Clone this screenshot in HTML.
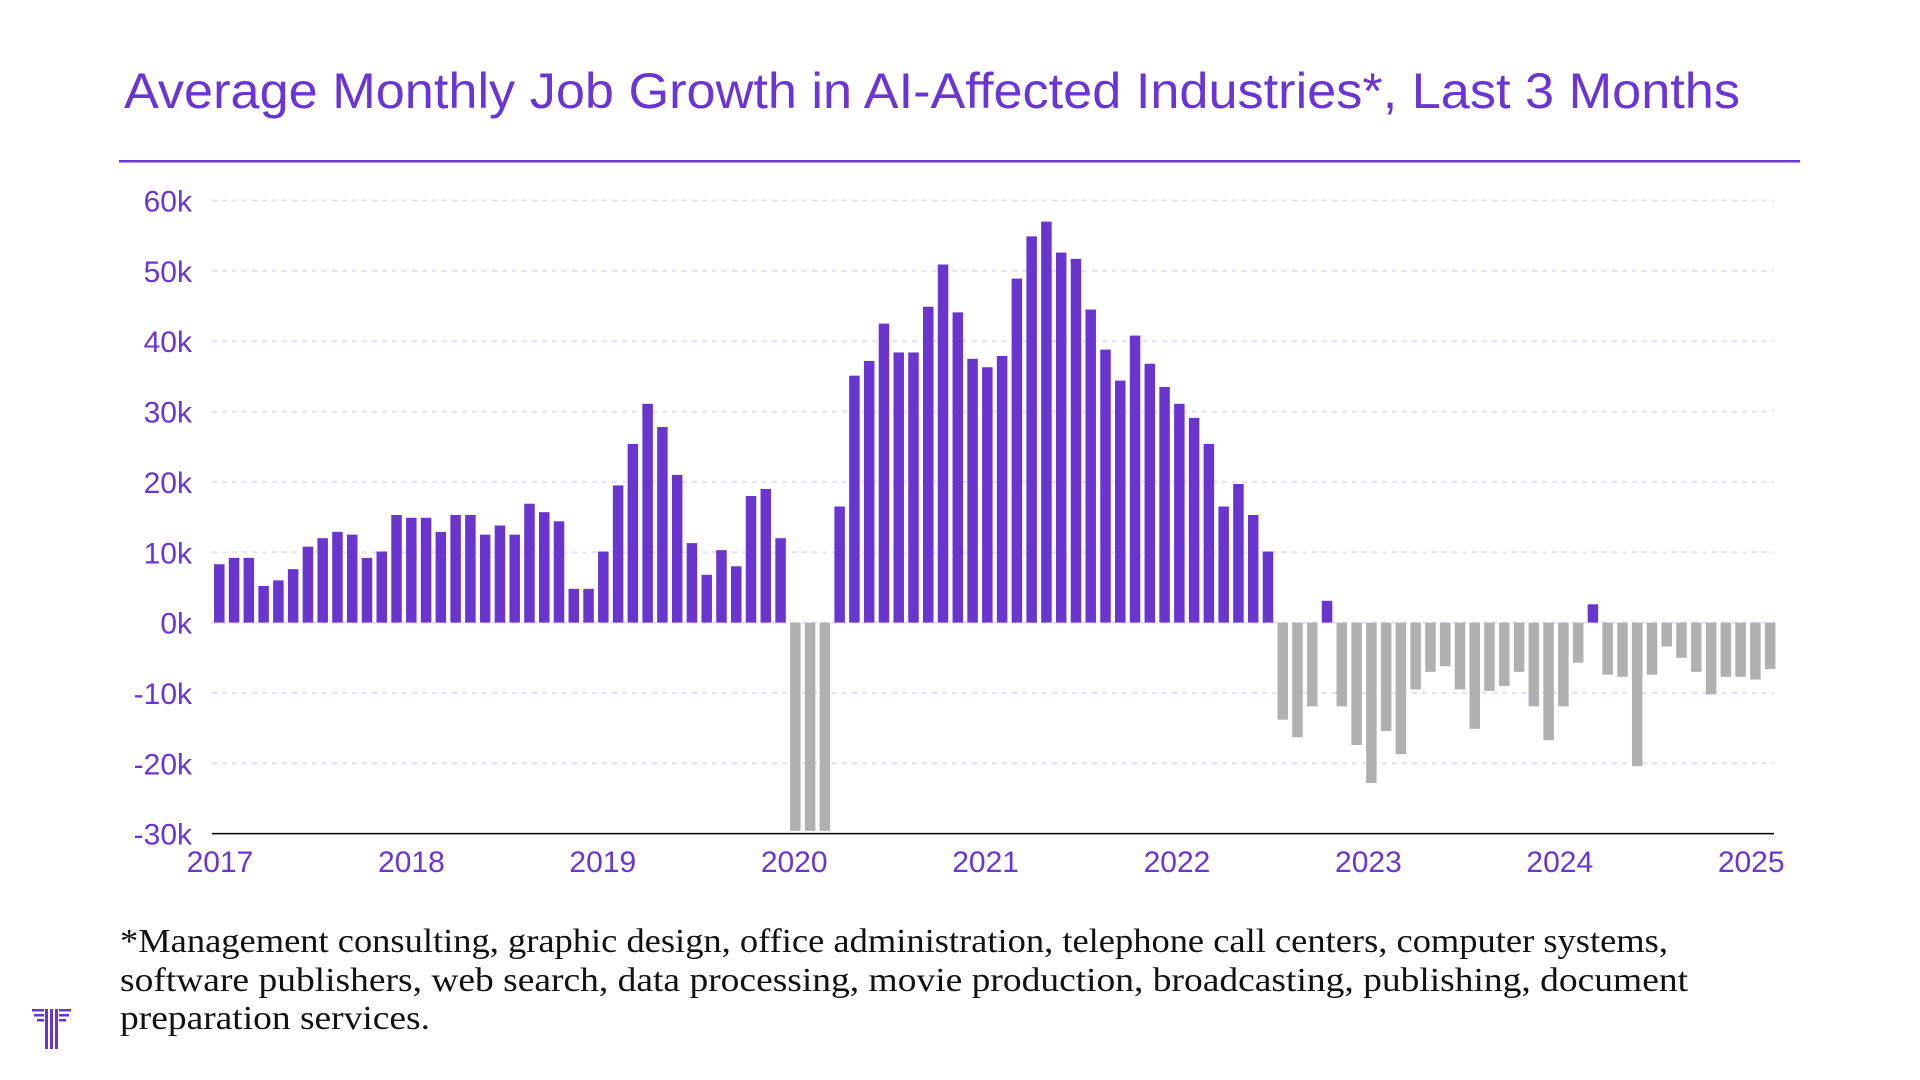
<!DOCTYPE html>
<html><head><meta charset="utf-8"><style>
html,body{margin:0;padding:0;background:#fff;}
svg{display:block;}
</style></head><body>
<svg id="chart" width="1920" height="1080" viewBox="0 0 1920 1080" xmlns="http://www.w3.org/2000/svg">
<rect width="1920" height="1080" fill="#fff"/>
<text x="124" y="108" font-family="Liberation Sans, sans-serif" font-size="50" fill="#6a35d4" textLength="1616" lengthAdjust="spacingAndGlyphs">Average Monthly Job Growth in AI-Affected Industries*, Last 3 Months</text>
<rect x="119" y="160" width="1681" height="2.5" fill="#6a35d4"/>
<g id="grid"></g>
<g id="yaxis"></g>
<g id="bars"></g>
<g id="xaxis"></g>
<g font-family="Liberation Serif, serif" font-size="34" fill="#111">
<text x="120" y="952" textLength="1548" lengthAdjust="spacingAndGlyphs">*Management consulting, graphic design, office administration, telephone call centers, computer systems,</text>
<text x="120" y="991" textLength="1568" lengthAdjust="spacingAndGlyphs">software publishers, web search, data processing, movie production, broadcasting, publishing, document</text>
<text x="120" y="1029" textLength="310" lengthAdjust="spacingAndGlyphs">preparation services.</text>
</g>
<g fill="#6a35d4">
<rect x="45" y="1009" width="3" height="40"/><rect x="50" y="1009" width="3" height="40"/><rect x="55" y="1009" width="3" height="40"/>
<rect x="32" y="1009" width="12" height="2.5"/><rect x="34" y="1014" width="10" height="2.5"/><rect x="37" y="1019" width="7" height="2.5"/>
<rect x="59" y="1009" width="12" height="2.5"/><rect x="59" y="1014" width="10" height="2.5"/><rect x="59" y="1019" width="7" height="2.5"/>
</g>
</svg>
<script>
const values = [8.3,9.2,9.2,5.2,6.0,7.6,10.8,12.0,12.9,12.5,9.2,10.1,15.3,14.9,14.9,12.9,15.3,15.3,12.5,13.8,12.5,16.9,15.7,14.4,4.8,4.8,10.1,19.5,25.4,31.1,27.8,21.0,11.3,6.8,10.3,8.0,18.0,19.0,12.0,-29.6,-29.6,-29.6,16.5,35.1,37.2,42.5,38.4,38.4,44.9,50.9,44.1,37.5,36.3,37.9,48.9,54.9,57.0,52.6,51.7,44.5,38.8,34.4,40.8,36.8,33.5,31.1,29.1,25.4,16.5,19.7,15.3,10.1,-13.8,-16.3,-11.9,3.1,-11.9,-17.4,-22.8,-15.4,-18.7,-9.5,-7.0,-6.2,-9.5,-15.1,-9.7,-9.0,-7.0,-11.9,-16.7,-11.9,-5.7,2.6,-7.4,-7.7,-20.4,-7.4,-3.4,-5.0,-7.0,-10.2,-7.7,-7.7,-8.1,-6.6];
const yTicks = [60,50,40,30,20,10,0,-10,-20,-30];
const yTickLabels = ["60k","50k","40k","30k","20k","10k","0k","-10k","-20k","-30k"];
const xLabels = ["2017","2018","2019","2020","2021","2022","2023","2024","2025"];

const NS = "http://www.w3.org/2000/svg";
const plotLeft = 212, plotRight = 1774;
function yScale(v){ return 622.6 - v * 7.035; }
function xBar(i){ return 219.3 + i * 14.77; }
function xLabel(k){ return 220 + k * 191.4; }
function mk(tag, attrs, parent){ const e = document.createElementNS(NS, tag); for (const k in attrs) e.setAttribute(k, attrs[k]); parent.appendChild(e); return e; }

const grid = document.getElementById('grid');
const yaxis = document.getElementById('yaxis');
yTicks.forEach((t, i) => {
  const y = yScale(t);
  if (t !== -30) {
    const l = mk('line', {x1: plotLeft, x2: plotRight, y1: y, y2: y, stroke: '#e4e0f5', 'stroke-width': 2, 'stroke-dasharray': '5 5'}, grid);
    
    
  }
  const tx = mk('text', {x: 192, y: y + 11, 'text-anchor': 'end', 'font-family': 'Liberation Sans, sans-serif', 'font-size': 30, fill: '#6a35d4'}, yaxis);
  tx.textContent = yTickLabels[i];
  
  
});

const bars = document.getElementById('bars');
const barW = 10.5;
values.forEach((v, i) => {
  const y0 = yScale(0), y1 = yScale(v);
  const r = mk('rect', {x: xBar(i) - barW / 2, y: Math.min(y0, y1), width: barW, height: Math.abs(y1 - y0), fill: v >= 0 ? '#6a35cf' : '#b0b0b0'}, bars);
  
  
});

const xaxis = document.getElementById('xaxis');
const axl = mk('line', {x1: plotLeft, x2: plotRight, y1: yScale(-30), y2: yScale(-30), stroke: '#000', 'stroke-width': 1.5}, xaxis);


xLabels.forEach((s, k) => {
  const t = mk('text', {x: xLabel(k), y: 872, 'text-anchor': 'middle', 'font-family': 'Liberation Sans, sans-serif', 'font-size': 30, fill: '#6a35d4'}, xaxis);
  t.textContent = s;
  
  
});
</script>
</body></html>
